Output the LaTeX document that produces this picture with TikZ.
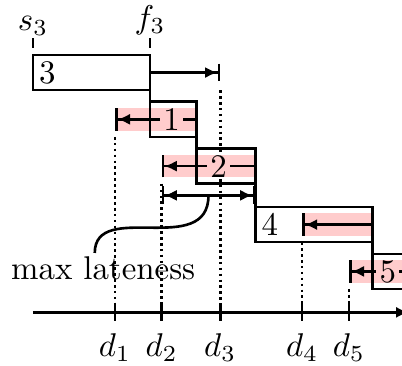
\documentclass[tikz,border=0pt]{standalone}
\usepackage{amsmath}
\usetikzlibrary{arrows.meta,positioning,calc,backgrounds}

\begin{document}
\begin{tikzpicture}[
    x=1.25mm, y=1.25mm,
    job/.style={draw, thick, minimum height=3.75mm, inner sep=0pt, outer sep=0pt},
    tag/.style={inner sep=1pt},
    tagfill/.style={tag, fill=red!20, inner ysep=0pt},
    band/.style={red!20, line width=2.4mm},
    due/.style={thick, -{Latex[length=3.8pt,width=3.4pt]Bar[width=2.4mm]}},
    span/.style={thick, {Bar[width=1.9mm]Latex[length=3.8pt,width=3.4pt]}-{Latex[length=3.8pt,width=3.4pt]Bar[width=1.9mm]}},
    guide/.style={thick, densely dotted},
    tick/.style={thick}
]
    \useasboundingbox (-2.82,-26.5) rectangle (31.54,4.7);

    % Jobs in schedule order
    \node[job, minimum width=12.5mm, anchor=north west] (j3) at (0,0) {};
    \node[job, minimum width=5mm, below right=1.25mm and 0mm of j3.south east] (j1) {};
    \node[job, minimum width=6.25mm, below right=1.25mm and 0mm of j1.south east] (j2) {};
    \node[job, minimum width=12.5mm, below right=2.5mm and 0mm of j2.south east] (j4) {};
    \node[job, minimum width=5mm, below right=1.25mm and 0mm of j4.south east] (j5) {};

    \draw[thick] (j3.south east) -- (j1.north west);
    \draw[thick] (j1.south east) -- (j2.north west);
    \draw[thick] (j2.south east) -- (j4.north west);
    \draw[thick] (j4.south east) -- (j5.north west);

    % Time axis and deadlines
    \coordinate (t0) at (0,-22);
    \coordinate (d1) at (7,-22);
    \coordinate (d2) at (11,-22);
    \coordinate (d3) at (16,-22);
    \coordinate (d4) at (23,-22);
    \coordinate (d5) at (27,-22);
    \coordinate (tend) at (32.1,-22);

    \begin{pgfonlayer}{background}
        \draw[guide] (d1 |- j1.south) -- (d1);
        \draw[guide] (d2 |- j2.south) -- (d2);
        \draw[guide] (d3 |- j3.south) -- (d3);
        \draw[guide] (d4 |- j4.south) -- (d4);
        \draw[guide] (d5 |- j5.south) -- (d5);
        % lateness bands
        \draw[band] (j1.east) -- (d1 |- j1.east);
        \draw[band] (j2.east) -- (d2 |- j2.east);
        \draw[band] (j4.east) -- (d4 |- j4.east);
        \draw[band] (j5.east) -- (d5 |- j5.east);
    \end{pgfonlayer}

    \draw[thick, -{Latex[length=3.8pt,width=3.4pt]Bar[width=1.9mm]}] (j3.east) -- (d3 |- j3.east);
    \draw[due] (j1.east) -- (d1 |- j1.east);
    \draw[due] (j2.east) -- (d2 |- j2.east);
    \draw[due] (j4.east) -- (d4 |- j4.east);
    \draw[due] (j5.east) -- (d5 |- j5.east);

    % Start and finish of job 3
    \coordinate[above=0.75mm of j3.north west] (s3);
    \coordinate[above=0.75mm of j3.north east] (f3);
    \draw[tick] (s3) -- ++(0,0.85) node[above, inner sep=0.5pt] {$s_3$};
    \draw[tick] (f3) -- ++(0,0.85) node[above, inner sep=0.5pt] {$f_3$};

    % Maximum lateness
    \coordinate[below=1.25mm of j2.south east] (lr);
    \draw[span] (d2 |- lr) -- coordinate (lm) (lr);
    \node[tag] (ml) at (6,-18.25) {max lateness};
    \draw[thick] (lm) .. controls +(0,-5.4) and +(0,4.6) .. ([xshift=-0.9mm]ml.north);

    \draw[thick, -{Latex[length=3.8pt,width=3.4pt]}] (t0) -- (tend);
    \foreach \i in {1,...,5}
        \draw[tick] ([yshift=2.7pt]d\i) -- ([yshift=-2.7pt]d\i) node[below] {$d_{\i}$};

    % Job labels
    \node[tag, right=0.7pt of j3.west] {3};
    \node[tagfill, right=2.9pt of j1.west] {1};
    \node[tagfill, right=2.9pt of j2.west] {2};
    \node[tag, right=0.7pt of j4.west] {4};
    \node[tagfill, right=1pt of j5.west] {5};
\end{tikzpicture}
\end{document}
